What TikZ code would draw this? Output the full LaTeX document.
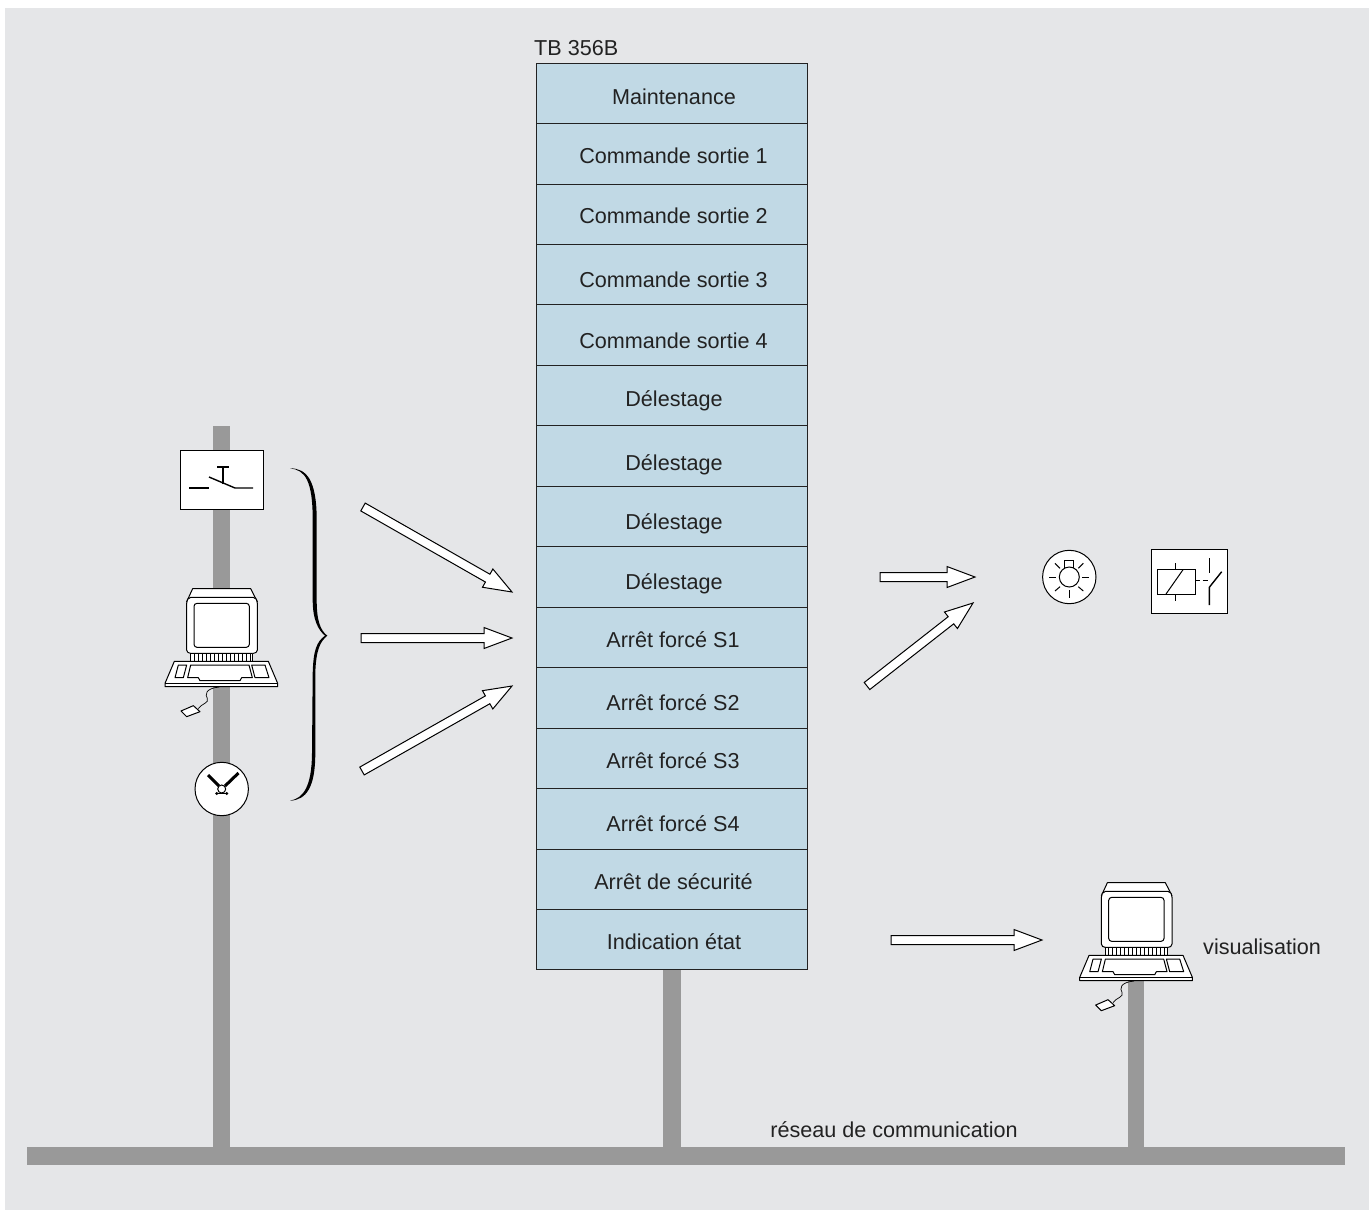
\documentclass[tikz,border=0pt]{standalone}
\usepackage{fontspec}
\setmainfont{Liberation Sans}
\usetikzlibrary{calc}
\definecolor{panel}{HTML}{E5E6E8}
\definecolor{rowblue}{HTML}{C1D9E5}
\definecolor{bar}{HTML}{999999}
\definecolor{ink}{HTML}{222222}
\tikzset{
  x=1pt,y=-1pt,
  rowbox/.style={draw=ink,line width=0.9pt,fill=rowblue,minimum width=270.5pt,inner sep=0pt,anchor=north west},
  rowtext/.style={font=\fontsize{21.6}{24}\selectfont,text=ink,inner sep=0pt,anchor=base},
  plain/.style={font=\fontsize{21.6}{24}\selectfont,text=ink,inner sep=0pt},
  sym/.style={draw=black,line width=1pt},
  symthick/.style={draw=black,line width=1.4pt},
  barfill/.style={fill=bar,draw=none},
  pics/computer/.style={code={
    \begin{scope}[x=0.3333pt,y=-0.3333pt,shift={(-276,-506)},line width=1pt,line join=round]
      \draw[fill=white] (188,506)--(362,506)--(382,545)--(170,545)--cycle;
      \draw[fill=white] (170,550) -- (170,690) to[out=-90,in=180] (182,700) -- (370,700) to[out=0,in=-90] (382,690) -- (382,550) to[out=90,in=0] (370,532) -- (182,532) to[out=180,in=90] (170,550) -- cycle;
      \draw[fill=white,rounded corners=3pt] (192,550) rectangle (358,682);
      \draw[fill=white] (182,700) rectangle (368,724);
      \foreach \vx in {192,204,...,360} {\draw[line width=0.8pt] (\vx,703)--(\vx,722);}
      \draw[fill=white] (133,724)--(415,724)--(443,790)--(443,800)--(105,800)--(105,790)--cycle;
      \draw (105,790)--(443,790);
      \draw (145,735)--(170,735)--(160,773)--(135,773)--cycle;
      \draw (182,735)--(357,735)--(367,773)--(335,773)--(330,782)--(210,782)--(205,773)--(173,773)--cycle;
      \draw (365,735)--(405,735)--(417,773)--(375,773)--cycle;
      \draw[line width=0.7pt] (268,801) .. controls (225,805) and (225,825) .. (232,835) .. controls (238,850) and (215,850) .. (205,866);
      \draw[fill=white] (153,873)--(190,857)--(210,875)--(170,890)--cycle;
    \end{scope}
  }}
}
\newcommand{\blockarrow}[2]{%
  \coordinate (hb) at ($(#2)!28pt!(#1)$);
  \draw[fill=white,line width=1pt,line join=miter]
    ($(#1)!4.5pt!-90:(#2)$) -- ($(hb)!4.5pt!90:(#1)$) -- ($(hb)!10.5pt!90:(#1)$) -- (#2)
    -- ($(hb)!10.5pt!-90:(#1)$) -- ($(hb)!4.5pt!-90:(#1)$) -- ($(#1)!4.5pt!90:(#2)$) -- cycle;
}
\begin{document}
\begin{tikzpicture}
\useasboundingbox (0,0) rectangle (1369,1210);
\fill[white] (0,0) rectangle (1369,1210);
\fill[panel] (5,8) rectangle (1369,1210);
% bars
\fill[barfill] (213,426) rectangle (230,1150);
\fill[barfill] (663,965) rectangle (681,1150);
\fill[barfill] (1128,980) rectangle (1144,1150);
\fill[barfill] (27,1147) rectangle (1345,1165);
% stack
\node[rowbox,minimum height=60.5pt] (r1) at (536,62.5) {};
\node[rowbox,minimum height=60.5pt] (r2) at (536,123) {};
\node[rowbox,minimum height=60.5pt] (r3) at (536,183.5) {};
\node[rowbox,minimum height=60.5pt] (r4) at (536,243.8) {};
\node[rowbox,minimum height=60.5pt] (r5) at (536,304) {};
\node[rowbox,minimum height=60.5pt] (r6) at (536,364.6) {};
\node[rowbox,minimum height=60.5pt] (r7) at (536,425) {};
\node[rowbox,minimum height=60.5pt] (r8) at (536,485.6) {};
\node[rowbox,minimum height=60.5pt] (r9) at (536,546) {};
\node[rowbox,minimum height=60.5pt] (r10) at (536,606.6) {};
\node[rowbox,minimum height=60.5pt] (r11) at (536,667) {};
\node[rowbox,minimum height=60.5pt] (r12) at (536,727.6) {};
\node[rowbox,minimum height=60.5pt] (r13) at (536,788) {};
\node[rowbox,minimum height=60.5pt] (r14) at (536,848.6) {};
\node[rowbox,minimum height=60pt] (r15) at (536,909) {};
\node[rowtext] (t1) at (674,104) {Maintenance};
\node[rowtext] (t2) at (673.5,163) {Commande sortie 1};
\node[rowtext] (t3) at (673.5,223) {Commande sortie 2};
\node[rowtext] (t4) at (673.5,287) {Commande sortie 3};
\node[rowtext] (t5) at (673.5,348) {Commande sortie 4};
\node[rowtext] (t6) at (674,406) {Délestage};
\node[rowtext] (t7) at (674,470) {Délestage};
\node[rowtext] (t8) at (674,529) {Délestage};
\node[rowtext] (t9) at (674,589) {Délestage};
\node[rowtext] (t10) at (673,647) {Arrêt forcé S1};
\node[rowtext] (t11) at (673,710) {Arrêt forcé S2};
\node[rowtext] (t12) at (673,768) {Arrêt forcé S3};
\node[rowtext] (t13) at (673,831) {Arrêt forcé S4};
\node[rowtext] (t14) at (673.5,889) {Arrêt de sécurité};
\node[rowtext] (t15) at (674,949) {Indication état};
\node[plain,anchor=base west] (title) at (534,55) {TB 356B};
\node[plain,anchor=base west] (visu) at (1203,954) {visualisation};
\node[plain,anchor=base] (net) at (894,1137) {réseau de communication};
% switch
\node[draw=black,line width=1pt,fill=white,minimum width=83pt,minimum height=59pt,inner sep=0pt,anchor=north west] (switch) at (180,450) {};
\draw[symthick] (189,488)--(209,488);
\draw[symthick] (209,477)--(235,488)--(253,488);
\draw[symthick] (223,484)--(223,467);
\draw[symthick] (217,467)--(229,467);
% computers
\pic (pcA) at (222,588.67) {computer};
\pic (pcB) at (1136.7,882.7) {computer};
% clock
\node[draw=black,line width=1pt,fill=white,circle,minimum size=53.4pt,inner sep=0pt] (clock) at (221.7,789) {};
\draw[line width=3pt] (208,775)--(219,786);
\draw[line width=3pt] (238.5,773)--(225,786);
\node[draw=black,line width=1pt,fill=white,circle,minimum size=8pt,inner sep=0pt] (hub) at (221.7,789) {};
\fill (216.7,793.5) circle (1.6pt);
\fill (226.7,793.5) circle (1.6pt);
\draw[line width=0.8pt] (216.7,793.5)--(226.7,793.5);
% brace
\fill[black] (290,468.3) .. controls (306.7,468.3) and (316.7,480) .. (316.7,520) -- (316.7,600)
  .. controls (316.7,620) and (320,630) .. (327.3,635.7)
  .. controls (320,641.7) and (316,650) .. (315.3,673.3) -- (315.3,753.3)
  .. controls (315.3,786.7) and (306.7,800) .. (290,800.7)
  .. controls (303.3,798.3) and (311.7,786.7) .. (312,753.3) -- (312.7,673.3)
  .. controls (313.3,650) and (316.7,641.7) .. (325,635.7)
  .. controls (318.3,630) and (312.7,620) .. (312.7,600) -- (312.7,520)
  .. controls (312.7,480) and (305,470) .. (290,468.3) -- cycle;
% lamp
\node[draw=black,line width=1pt,fill=white,circle,minimum size=53.4pt,inner sep=0pt] (lamp) at (1069.3,577) {};
\node[draw=black,line width=1pt,circle,minimum size=20pt,inner sep=0pt] (bulb) at (1069.3,577) {};
\draw[sym] (1064.7,567.8)--(1064.7,560.7)--(1073.3,560.7)--(1073.3,567.8);
\draw[sym] (1049,577.3)--(1056,577.3);
\draw[sym] (1082.3,577.3)--(1089.3,577.3);
\draw[sym] (1069,590)--(1069,597.7);
\draw[sym] (1055,563.3)--(1060,568.3);
\draw[sym] (1083.3,563.3)--(1078.3,568.3);
\draw[sym] (1055,591)--(1060,586.7);
\draw[sym] (1083.3,591)--(1078.3,586.7);
% relay
\node[draw=black,line width=1pt,fill=white,minimum width=76pt,minimum height=64pt,inner sep=0pt,anchor=north west] (relay) at (1150.7,549.3) {};
\draw[sym] (1157.3,569.3) rectangle (1195,594);
\draw[sym] (1166,594)--(1183.3,569.3);
\draw[sym] (1175.7,563.3)--(1175.7,569.3);
\draw[sym] (1175.7,594)--(1175.7,600.7);
\draw[sym,dashed,dash pattern=on 5pt off 2.5pt] (1195,580.7)--(1208.3,580.7);
\draw[symthick] (1209.3,558.3)--(1209.3,572.7);
\draw[symthick] (1209.3,605)--(1209.3,587.3)--(1221.7,571.7);
% arrows
\coordinate (a1s) at (363,507); \coordinate (a1e) at (512,592);
\coordinate (a2s) at (361,638); \coordinate (a2e) at (512,638);
\coordinate (a3s) at (362,771); \coordinate (a3e) at (512,686);
\coordinate (a4s) at (880,577); \coordinate (a4e) at (975,577);
\coordinate (a5s) at (867,686); \coordinate (a5e) at (973,603);
\coordinate (a6s) at (891,940); \coordinate (a6e) at (1042,940);
\blockarrow{a1s}{a1e}
\blockarrow{a2s}{a2e}
\blockarrow{a3s}{a3e}
\blockarrow{a4s}{a4e}
\blockarrow{a5s}{a5e}
\blockarrow{a6s}{a6e}
\end{tikzpicture}
\end{document}
